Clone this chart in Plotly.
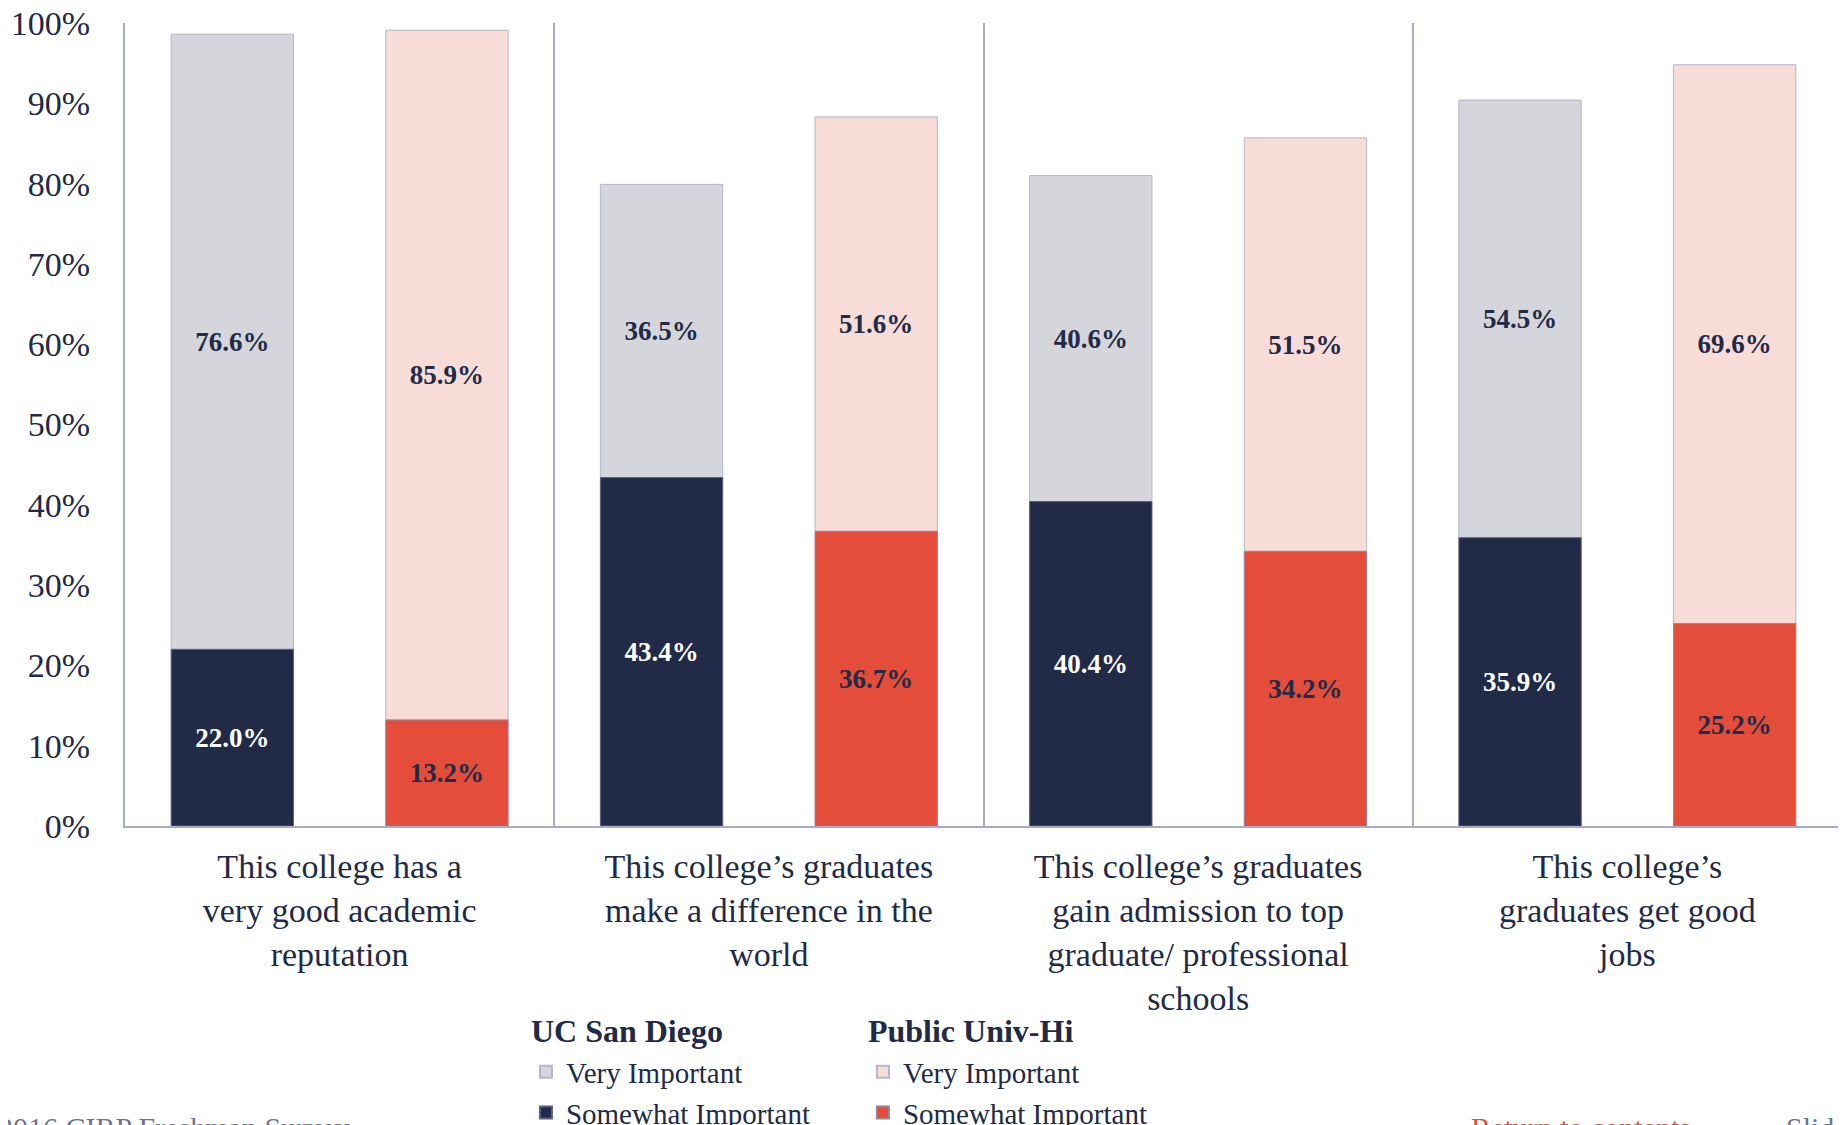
import plotly.graph_objects as go

categories = [
    "This college has a<br>very good academic<br>reputation",
    "This college’s graduates<br>make a difference in the<br>world",
    "This college’s graduates<br>gain admission to top<br>graduate/ professional<br>schools",
    "This college’s<br>graduates get good<br>jobs",
]
ucsd_somewhat = [22.0, 43.4, 40.4, 35.9]
ucsd_very = [76.6, 36.5, 40.6, 54.5]
public_somewhat = [13.2, 36.7, 34.2, 25.2]
public_very = [85.9, 51.6, 51.5, 69.6]

navy = "#212A47"
grey = "#D5D6DB"
red = "#E44D3A"
pink = "#F8DCD8"
edge = "#B4B5CC"
serif = "Liberation Serif"

fig = go.Figure()


def add_bar(name, vals, color, group, title, base, textcolor, line):
    fig.add_trace(go.Bar(
        x=categories, y=vals, base=base, name=name,
        offsetgroup=group, legendgroup=group, legendgrouptitle_text=title,
        marker=dict(color=color, line=dict(color=line, width=1)),
        texttemplate="%{y:.1f}%", textposition="inside",
        insidetextanchor="middle", textangle=0,
        textfont=dict(family=serif, size=27, color=textcolor, weight="bold"),
    ))


add_bar("Very Important", ucsd_very, grey, "ucsd", "<b>UC San Diego</b>", ucsd_somewhat, navy, edge)
add_bar("Somewhat Important", ucsd_somewhat, navy, "ucsd", "<b>UC San Diego</b>", None, "white", "#5A5F80")
add_bar("Very Important", public_very, pink, "pub", "<b>Public Univ-Hi</b>", public_somewhat, navy, edge)
add_bar("Somewhat Important", public_somewhat, red, "pub", "<b>Public Univ-Hi</b>", None, navy, "#9A7F95")

fig.update_layout(
    width=1846, height=1125,
    margin=dict(l=117, r=12, t=15, b=307, autoexpand=False),
    paper_bgcolor="white", plot_bgcolor="white",
    barmode="group", bargap=0, bargroupgap=0.43,
    font=dict(family=serif, color=navy),
    legend=dict(
        orientation="h", x=0.2335, y=-0.219, xanchor="left", yanchor="top",
        bgcolor="rgba(0,0,0,0)",
        font=dict(size=29, color=navy), grouptitlefont=dict(size=32, color=navy),
        entrywidth=292, entrywidthmode="pixels", itemsizing="constant",
    ),
    showlegend=True,
)
fig.update_yaxes(
    range=[0, 100], tickvals=list(range(0, 101, 10)),
    ticktext=[f"{v}%" for v in range(0, 101, 10)],
    tickfont=dict(size=34, color=navy), ticklabeloverflow="allow",
    showgrid=False, showline=True, linecolor="#A9ACC8", linewidth=2,
    zeroline=False, ticks="", ticklabelstandoff=26, automargin=False,
)
fig.update_xaxes(
    tickfont=dict(size=34, color=navy), tickangle=0,
    showline=True, linecolor="#A9ACC8", linewidth=2,
    showgrid=True, gridcolor="#A9ACC8", gridwidth=2, tickson="boundaries",
    ticks="", ticklabelstandoff=9, automargin=False,
)

fig.add_annotation(text="2016 CIRP Freshman Survey", xref="paper", yref="paper",
                   x=-0.075, y=-0.352, xanchor="left", yanchor="top", showarrow=False,
                   font=dict(size=30, color="#6E7396"))
fig.add_annotation(text="Return to contents", xref="paper", yref="paper",
                   x=0.783, y=-0.352, xanchor="left", yanchor="top", showarrow=False,
                   font=dict(size=30, color="#E44D3A"))
fig.add_annotation(text="Slide", xref="paper", yref="paper",
                   x=0.966, y=-0.352, xanchor="left", yanchor="top", showarrow=False,
                   font=dict(size=30, color="#6E7396"))

fig.write_html("out.html")
